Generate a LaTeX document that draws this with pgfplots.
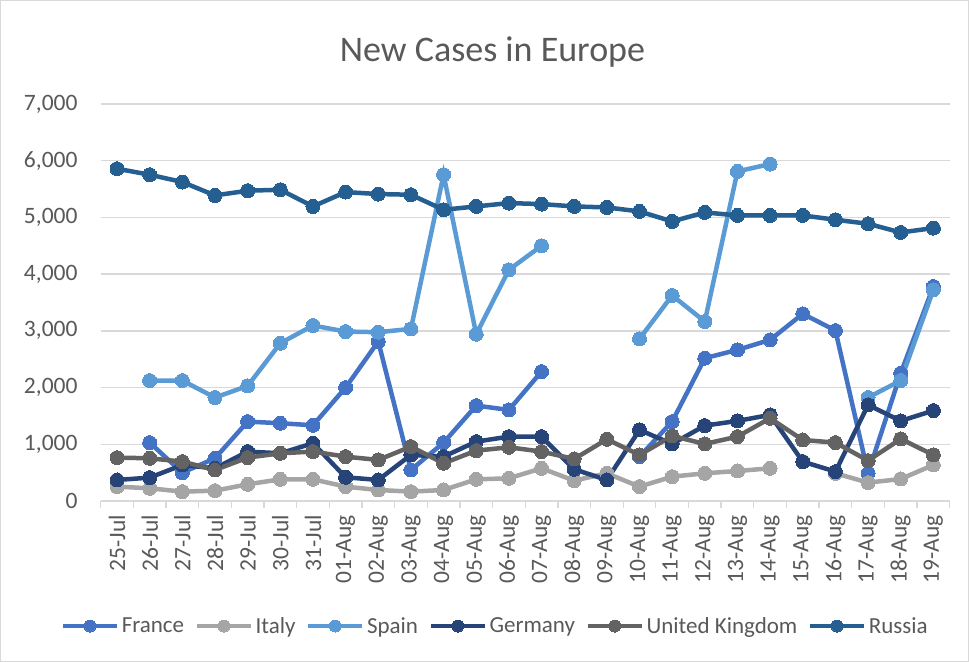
\documentclass[border=0pt]{standalone}
\usepackage{pgfplots}
\pgfplotsset{compat=1.18}
\usepackage{pgfplotstable}
\usepackage{fontspec}
\setmainfont{Carlito}
\definecolor{cFrance}{HTML}{4472C4}
\definecolor{cItaly}{HTML}{A5A5A5}
\definecolor{cSpain}{HTML}{5B9BD5}
\definecolor{cGermany}{HTML}{264478}
\definecolor{cUK}{HTML}{636363}
\definecolor{cRussia}{HTML}{255E91}
\definecolor{gridc}{HTML}{D9D9D9}
\definecolor{labc}{HTML}{595959}
\pgfplotstableread{
idx France Italy Spain Germany UK Russia
0 nan 253 nan 371 765 5859
1 1029 224 2124 412 753 5753
2 500 165 2124 635 694 5624
3 753 182 1824 576 547 5388
4 1400 294 2029 871 765 5471
5 1371 382 2782 841 841 5488
6 1335 382 3094 1018 871 5194
7 2000 253 2988 418 782 5447
8 2812 194 2976 371 724 5412
9 547 165 3035 812 959 5400
10 1029 194 5753 782 665 5135
11 1682 382 2941 1047 888 5194
12 1606 400 4076 1135 947 5253
13 2282 576 4500 1135 871 5235
14 nan 359 nan 559 741 5194
15 nan 488 nan 371 1088 5176
16 782 253 2859 1253 812 5106
17 1400 429 3624 1006 1147 4929
18 2518 488 3165 1329 1006 5088
19 2665 529 5812 1412 1135 5035
20 2841 576 5941 1518 1459 5035
21 3300 nan nan 694 1076 5035
22 3006 488 nan 518 1029 4959
23 488 324 1824 1694 712 4888
24 2253 388 2124 1412 1094 4735
25 3782 635 3724 1594 812 4812
}\datatable
\begin{document}
\begin{tikzpicture}[x=1bp,y=1bp]
\path[draw=gridc, line width=1bp, fill=white] (0.5,0.5) rectangle (968.5,661.5);
\node[anchor=base, text=labc, inner sep=0pt, font=\fontsize{36bp}{40bp}\selectfont] at (492.5,600) {New Cases in Europe};
\begin{axis}[
  at={(100.7bp,161bp)}, anchor=south west,
  scale only axis, width=849bp, height=397bp,
  xmin=-0.5, xmax=25.5, ymin=0, ymax=7000,
  axis x line*=bottom, axis y line*=left,
  x axis line style={-, draw=gridc, line width=1.3bp},
  y axis line style={draw=none},
  ytick={0,1000,...,7000},
  ymajorgrids, grid style={draw=gridc, line width=1.3bp},
  xtick={0,...,25},
  xticklabels={25-Jul,26-Jul,27-Jul,28-Jul,29-Jul,30-Jul,31-Jul,01-Aug,02-Aug,03-Aug,04-Aug,05-Aug,06-Aug,07-Aug,08-Aug,09-Aug,10-Aug,11-Aug,12-Aug,13-Aug,14-Aug,15-Aug,16-Aug,17-Aug,18-Aug,19-Aug},
  minor xtick={-0.5,0.5,...,25.5},
  tick align=outside,
  major tick length=0pt, minor tick length=7bp,
  minor tick style={draw=gridc, line width=1.3bp},
  ytick style={draw=none},
  scaled y ticks=false,
  /pgf/number format/assume math mode=true,
  ticklabel style={font=\fontsize{23.5bp}{28bp}\selectfont, text=labc, inner sep=0pt},
  xticklabel style={rotate=90, anchor=east},
  yticklabel style={anchor=east, /pgf/number format/fixed, /pgf/number format/1000 sep={,}},
  xticklabel shift=14bp,
  yticklabel shift=23bp,
  unbounded coords=jump,
  clip=false,
  legend columns=6,
  legend style={draw=none, fill=none, at={(0.465,-0.315)}, anchor=center,
    font=\fontsize{23bp}{28bp}\selectfont, text=labc,
    /tikz/every even column/.append style={column sep=8bp},
    inner sep=0pt, nodes={inner xsep=2.5bp}},
  legend image code/.code={\draw[mark repeat=2,mark phase=2,#1,mark size=6bp] plot coordinates {(0bp,0bp) (27bp,0bp) (54bp,0bp)};},
  every axis plot/.append style={line width=4.5bp, mark=*, mark size=7bp},
]
\addplot[color=cFrance, mark options={fill=cFrance, draw=cFrance, line width=0pt}] table[x=idx,y=France]{\datatable};
\addlegendentry{France}
\addplot[color=cItaly, mark options={fill=cItaly, draw=cItaly, line width=0pt}] table[x=idx,y=Italy]{\datatable};
\addlegendentry{Italy}
\addplot[color=cSpain, mark options={fill=cSpain, draw=cSpain, line width=0pt}] table[x=idx,y=Spain]{\datatable};
\addlegendentry{Spain}
\addplot[color=cGermany, mark options={fill=cGermany, draw=cGermany, line width=0pt}] table[x=idx,y=Germany]{\datatable};
\addlegendentry{Germany}
\addplot[color=cUK, mark options={fill=cUK, draw=cUK, line width=0pt}] table[x=idx,y=UK]{\datatable};
\addlegendentry{United Kingdom}
\addplot[color=cRussia, mark options={fill=cRussia, draw=cRussia, line width=0pt}] table[x=idx,y=Russia]{\datatable};
\addlegendentry{Russia}
\end{axis}
\end{tikzpicture}
\end{document}
